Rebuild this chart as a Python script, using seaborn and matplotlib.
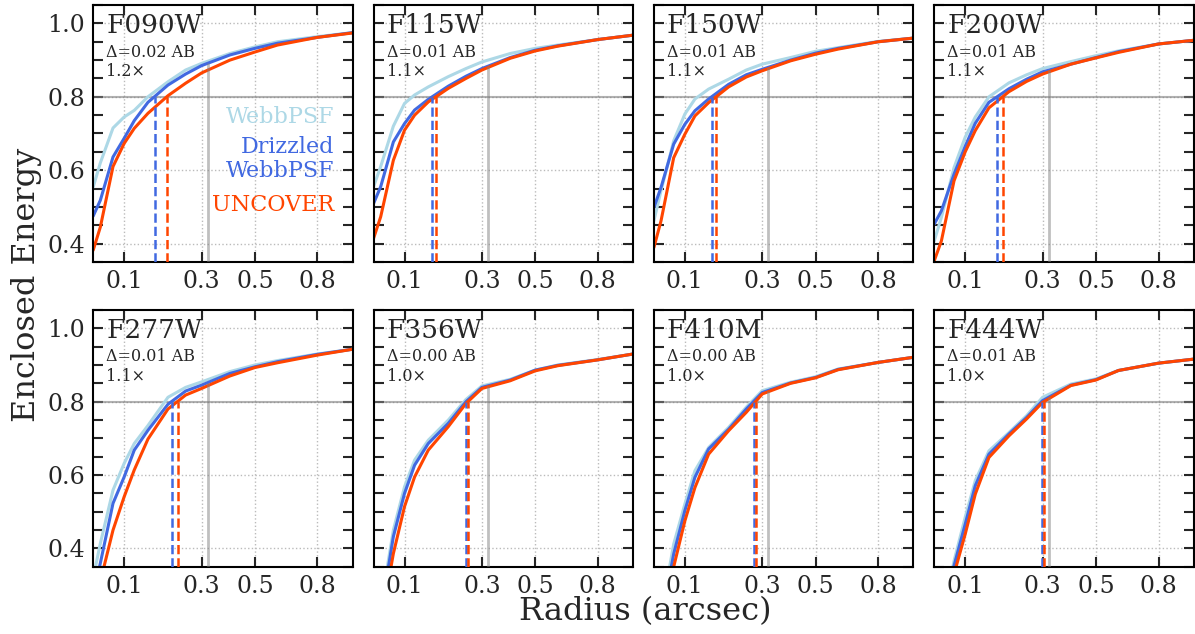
import numpy as np
import pandas as pd
import matplotlib
matplotlib.use('Agg')
import matplotlib.pyplot as plt
import seaborn as sns

# radius grid (arcsec) shared by every filter
radius = [0.05, 0.06, 0.08, 0.10, 0.12, 0.15, 0.20, 0.25, 0.30, 0.40, 0.50, 0.60, 0.80, 1.00]

filters = ['F090W', 'F115W', 'F150W', 'F200W', 'F277W', 'F356W', 'F410M', 'F444W']
delta_ab = ['0.02', '0.01', '0.01', '0.01', '0.01', '0.00', '0.00', '0.01']
ratio = ['1.2', '1.1', '1.1', '1.1', '1.1', '1.0', '1.0', '1.0']

# enclosed energy
webbpsf = {
    'F090W': [0.554, 0.62, 0.715, 0.745, 0.763, 0.80, 0.841, 0.873, 0.891, 0.918, 0.936, 0.950, 0.964, 0.975],
    'F115W': [0.555, 0.61, 0.72, 0.782, 0.805, 0.827, 0.855, 0.877, 0.895, 0.918, 0.932, 0.941, 0.956, 0.968],
    'F150W': [0.462, 0.544, 0.68, 0.753, 0.794, 0.821, 0.848, 0.873, 0.889, 0.907, 0.924, 0.934, 0.951, 0.960],
    'F200W': [0.407, 0.471, 0.607, 0.690, 0.745, 0.800, 0.838, 0.860, 0.877, 0.896, 0.912, 0.925, 0.944, 0.954],
    'F277W': [0.32, 0.414, 0.559, 0.632, 0.686, 0.735, 0.812, 0.839, 0.854, 0.882, 0.900, 0.912, 0.930, 0.943],
    'F356W': [0.15, 0.24, 0.45, 0.568, 0.641, 0.695, 0.750, 0.806, 0.843, 0.861, 0.886, 0.900, 0.915, 0.930],
    'F410M': [0.14, 0.22, 0.412, 0.521, 0.612, 0.675, 0.730, 0.785, 0.830, 0.853, 0.868, 0.889, 0.907, 0.921],
    'F444W': [0.11, 0.19, 0.366, 0.485, 0.585, 0.666, 0.716, 0.762, 0.812, 0.848, 0.862, 0.885, 0.905, 0.916],
}
drizzled = {
    'F090W': [0.475, 0.518, 0.636, 0.687, 0.735, 0.785, 0.832, 0.862, 0.885, 0.914, 0.932, 0.946, 0.962, 0.975],
    'F115W': [0.509, 0.555, 0.677, 0.727, 0.764, 0.793, 0.829, 0.856, 0.877, 0.907, 0.927, 0.939, 0.956, 0.968],
    'F150W': [0.498, 0.553, 0.671, 0.725, 0.762, 0.794, 0.834, 0.860, 0.875, 0.900, 0.919, 0.932, 0.950, 0.960],
    'F200W': [0.453, 0.489, 0.589, 0.665, 0.728, 0.785, 0.822, 0.848, 0.868, 0.889, 0.907, 0.923, 0.944, 0.954],
    'F277W': [0.27, 0.36, 0.523, 0.595, 0.668, 0.722, 0.793, 0.829, 0.845, 0.877, 0.895, 0.909, 0.929, 0.943],
    'F356W': [0.13, 0.22, 0.432, 0.550, 0.627, 0.686, 0.741, 0.800, 0.839, 0.859, 0.886, 0.899, 0.914, 0.930],
    'F410M': [0.12, 0.20, 0.385, 0.503, 0.594, 0.671, 0.725, 0.780, 0.825, 0.851, 0.866, 0.888, 0.907, 0.921],
    'F444W': [0.10, 0.18, 0.353, 0.466, 0.571, 0.657, 0.712, 0.757, 0.803, 0.845, 0.860, 0.885, 0.905, 0.916],
}
uncover = {
    'F090W': [0.382, 0.445, 0.61, 0.673, 0.714, 0.755, 0.803, 0.837, 0.865, 0.900, 0.922, 0.941, 0.962, 0.974],
    'F115W': [0.414, 0.473, 0.627, 0.709, 0.750, 0.786, 0.823, 0.850, 0.873, 0.905, 0.925, 0.938, 0.956, 0.968],
    'F150W': [0.389, 0.462, 0.634, 0.698, 0.748, 0.784, 0.827, 0.854, 0.871, 0.898, 0.916, 0.930, 0.950, 0.960],
    'F200W': [0.353, 0.407, 0.571, 0.650, 0.708, 0.770, 0.814, 0.842, 0.862, 0.889, 0.906, 0.921, 0.944, 0.954],
    'F277W': [0.22, 0.31, 0.45, 0.541, 0.614, 0.698, 0.780, 0.818, 0.836, 0.870, 0.893, 0.906, 0.927, 0.943],
    'F356W': [0.10, 0.19, 0.386, 0.514, 0.595, 0.668, 0.732, 0.795, 0.836, 0.857, 0.884, 0.898, 0.914, 0.930],
    'F410M': [0.10, 0.17, 0.35, 0.475, 0.566, 0.657, 0.721, 0.771, 0.821, 0.850, 0.865, 0.887, 0.907, 0.921],
    'F444W': [0.09, 0.16, 0.33, 0.439, 0.548, 0.648, 0.707, 0.753, 0.798, 0.844, 0.859, 0.885, 0.905, 0.916],
}

aper = 0.32  # photometric aperture radius
c_webb = 'lightblue'
c_driz = 'royalblue'
c_unc = 'orangered'


def r80(r, ee):
    # radius where the curve reaches 80% energy
    return np.interp(0.8, ee, r)


sns.set_theme(style='ticks')
plt.rcParams['font.family'] = ['DejaVu Serif']
plt.rcParams['mathtext.fontset'] = 'dejavuserif'

fig, axes = plt.subplots(2, 4, figsize=(11.95, 6.34), dpi=100, sharey=True)
fig.subplots_adjust(left=0.078, right=0.999, top=0.992, bottom=0.106,
                    wspace=0.08, hspace=0.187)

for i, (ax, f) in enumerate(zip(axes.flat, filters)):
    ax.set_xscale('function', functions=(np.sqrt, np.square))
    df = pd.DataFrame({'r': radius, 'webb': webbpsf[f],
                       'driz': drizzled[f], 'unc': uncover[f]})
    sns.lineplot(data=df, x='r', y='webb', ax=ax, color=c_webb, lw=2.2)
    sns.lineplot(data=df, x='r', y='driz', ax=ax, color=c_driz, lw=2.2)
    sns.lineplot(data=df, x='r', y='unc', ax=ax, color=c_unc, lw=2.2)

    ax.axhline(0.8, color='gray', lw=1.5, alpha=0.6, zorder=1)
    top = np.interp(aper, df['r'], df['driz'])
    ax.vlines(aper, 0.35, top, color='gray', lw=2, alpha=0.5, zorder=4)
    ax.vlines(r80(df['r'], df['driz']), 0.35, 0.8, color=c_driz,
              ls='--', lw=1.8, zorder=5)
    ax.vlines(r80(df['r'], df['unc']), 0.35, 0.8, color=c_unc,
              ls='--', lw=1.8, zorder=5)

    ax.set_xlim(0.05, 1.0)
    ax.set_ylim(0.35, 1.05)
    ax.set_xticks([0.1, 0.3, 0.5, 0.8])
    ax.set_xticklabels(['0.1', '0.3', '0.5', '0.8'])
    ax.set_yticks([0.4, 0.6, 0.8, 1.0])
    ax.set_yticks(np.arange(0.35, 1.051, 0.05), minor=True)
    ax.xaxis.set_minor_locator(matplotlib.ticker.NullLocator())
    ax.tick_params(which='both', direction='in', top=True, right=True,
                   length=7, width=1.5, labelsize=17, pad=6)
    ax.grid(True, which='major', ls=':', color='#bbbbbb', lw=1)
    for s in ax.spines.values():
        s.set_linewidth(1.5)
        s.set_color('black')
    ax.set_xlabel('')
    ax.set_ylabel('')

    ax.text(0.05, 0.97, f, transform=ax.transAxes, fontsize=19,
            va='top', ha='left')
    ax.text(0.05, 0.817, '\u0394=' + delta_ab[i] + ' AB',
            transform=ax.transAxes, fontsize=11.5, va='center')
    ax.text(0.05, 0.74, ratio[i] + '\u00d7', transform=ax.transAxes,
            fontsize=11.5, va='center')

ax0 = axes[0, 0]
ax0.text(0.93, 0.565, 'WebbPSF', color=c_webb, fontsize=16,
         ha='right', va='center', transform=ax0.transAxes)
ax0.text(0.93, 0.40, 'Drizzled\nWebbPSF', color=c_driz, fontsize=16,
         ha='right', va='center', transform=ax0.transAxes, linespacing=1.1)
ax0.text(0.93, 0.222, 'UNCOVER', color=c_unc, fontsize=16,
         ha='right', va='center', transform=ax0.transAxes)

fig.text(0.022, 0.55, 'Enclosed Energy', rotation=90, fontsize=23,
         ha='center', va='center')
fig.text(0.54, 0.035, 'Radius (arcsec)', fontsize=23, ha='center', va='center')

fig.savefig('out.png', dpi=100)
